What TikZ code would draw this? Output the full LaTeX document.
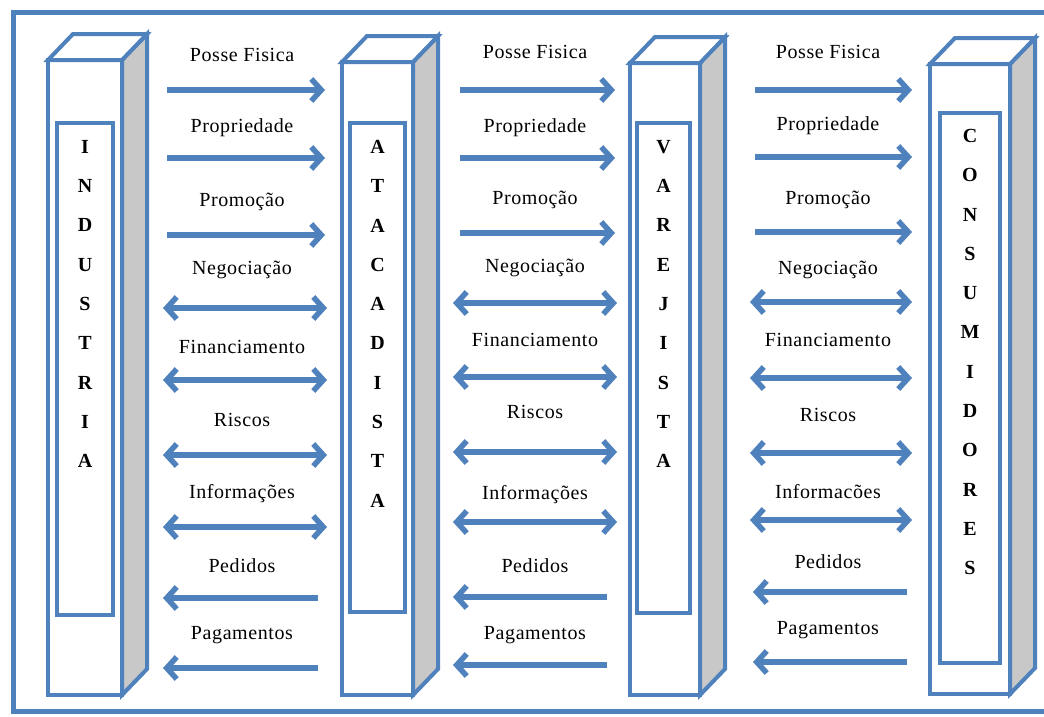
\documentclass[tikz,border=0pt]{standalone}
\usepackage{fontspec}
\setmainfont{Liberation Serif}
\newfontfamily\lblfont[LetterSpace=3]{Liberation Serif}
\usetikzlibrary{arrows.meta}
\definecolor{bl}{HTML}{4F81BD}
\definecolor{sidegray}{HTML}{C8C8C8}
\begin{document}
\begin{tikzpicture}[x=1pt,y=-1pt,
  frame/.style={draw=bl,line width=5pt},
  front/.style={draw=bl,fill=white,line width=4pt,outer sep=0pt,inner sep=0pt,line join=miter},
  sidef/.style={draw=bl,fill=sidegray,line width=4pt,line join=miter},
  topf/.style={draw=bl,fill=white,line width=4pt,line join=miter},
  inbox/.style={draw=bl,fill=white,line width=4pt,outer sep=0pt,inner sep=0pt},
  letters/.style={font=\bfseries\fontsize{20}{39.3}\selectfont,align=center,inner sep=0pt,anchor=north},
  lbl/.style={font=\lblfont\fontsize{20}{22}\selectfont,inner sep=0pt},
  tipb/.tip={Straight Barb[length=10pt,width=22pt]},
  fwd/.style={draw=bl,line width=5.5pt,-tipb},
  dbl/.style={draw=bl,line width=5.5pt,tipb-tipb},
  bwd/.style={draw=bl,line width=5.5pt,-tipb}]
\useasboundingbox (0,0) rectangle (1044,716);
\clip (0,0) rectangle (1044,716);
\fill[white] (0,0) rectangle (1044,716);
\draw[frame] (1060,12) -- (13,12) -- (13,711) -- (1060,711);

% prisms
\foreach \p/\xa/\ya/\xb/\yb/\ia/\ib/\ic/\id/\ty/\word in {
 1/48/60/122/695/57/123/113/615/140/{I\\N\\D\\U\\S\\T\\R\\I\\A},
 2/342/62/413/695/350/123/405/612/140/{A\\T\\A\\C\\A\\D\\I\\S\\T\\A},
 3/630/63/700/695/637/123/690/613/140/{V\\A\\R\\E\\J\\I\\S\\T\\A},
 4/930/64/1010/694/940/113/1000/663/129/{C\\O\\N\\S\\U\\M\\I\\D\\O\\R\\E\\S}}
{
 \node[front,minimum width={(\xb-\xa)*1pt},minimum height={(\yb-\ya)*1pt}]
   (p\p) at ({(\xa+\xb)/2},{(\ya+\yb)/2}) {};
 \filldraw[sidef] (p\p.north east) -- ++(25,-26) -- ([shift={(25,-26)}]p\p.south east)
   -- (p\p.south east) -- cycle;
 \filldraw[topf] (p\p.north west) -- ++(25,-26) -- ([shift={(25,-26)}]p\p.north east)
   -- (p\p.north east) -- cycle;
 \node[inbox,minimum width={(\ic-\ia)*1pt},minimum height={(\id-\ib)*1pt}]
   (q\p) at ({(\ia+\ic)/2},{(\ib+\id)/2}) {};
 \node[letters] (w\p) at ({(\ia+\ic)/2},\ty) {\word};
}

% column 1
\foreach \i/\t/\ay/\ly in {1/Posse Fisica/90/55, 2/Propriedade/158/128, 3/Promoção/235/202}{
  \node[lbl] (l1-\i) at (242,\ly) {\t};
  \coordinate (s1-\i) at (167,\ay); \coordinate (e1-\i) at (325,\ay);
  \draw[fwd] (s1-\i) -- (e1-\i);}
\foreach \i/\t/\ay/\ly in {4/Negociação/308/270, 5/Financiamento/380/347, 6/Riscos/455/420, 7/Informações/527/494}{
  \node[lbl] (l1-\i) at (242,\ly) {\t};
  \coordinate (s1-\i) at (163,\ay); \coordinate (e1-\i) at (327,\ay);
  \draw[dbl] (s1-\i) -- (e1-\i);}
\foreach \i/\t/\ay/\ly in {8/Pedidos/598/566, 9/Pagamentos/668/635}{
  \node[lbl] (l1-\i) at (242,\ly) {\t};
  \coordinate (s1-\i) at (318,\ay); \coordinate (e1-\i) at (163,\ay);
  \draw[bwd] (s1-\i) -- (e1-\i);}

% column 2
\foreach \i/\t/\ay/\ly in {1/Posse Fisica/90/52, 2/Propriedade/158/128, 3/Promoção/233/200}{
  \node[lbl] (l2-\i) at (535,\ly) {\t};
  \coordinate (s2-\i) at (460,\ay); \coordinate (e2-\i) at (615,\ay);
  \draw[fwd] (s2-\i) -- (e2-\i);}
\foreach \i/\t/\ay/\ly in {4/Negociação/303/268, 5/Financiamento/377/340, 6/Riscos/452/412, 7/Informações/522/495}{
  \node[lbl] (l2-\i) at (535,\ly) {\t};
  \coordinate (s2-\i) at (453,\ay); \coordinate (e2-\i) at (617,\ay);
  \draw[dbl] (s2-\i) -- (e2-\i);}
\foreach \i/\t/\ay/\ly in {8/Pedidos/597/566, 9/Pagamentos/665/635}{
  \node[lbl] (l2-\i) at (535,\ly) {\t};
  \coordinate (s2-\i) at (607,\ay); \coordinate (e2-\i) at (453,\ay);
  \draw[bwd] (s2-\i) -- (e2-\i);}

% column 3
\foreach \i/\t/\ay/\ly in {1/Posse Fisica/90/52, 2/Propriedade/157/126, 3/Promoção/232/200}{
  \node[lbl] (l3-\i) at (828,\ly) {\t};
  \coordinate (s3-\i) at (755,\ay); \coordinate (e3-\i) at (912,\ay);
  \draw[fwd] (s3-\i) -- (e3-\i);}
\foreach \i/\t/\ay/\ly in {4/Negociação/302/270, 5/Financiamento/378/340, 6/Riscos/453/415, 7/Informacões/520/492}{
  \node[lbl] (l3-\i) at (828,\ly) {\t};
  \coordinate (s3-\i) at (750,\ay); \coordinate (e3-\i) at (912,\ay);
  \draw[dbl] (s3-\i) -- (e3-\i);}
\foreach \i/\t/\ay/\ly in {8/Pedidos/592/562, 9/Pagamentos/662/630}{
  \node[lbl] (l3-\i) at (828,\ly) {\t};
  \coordinate (s3-\i) at (907,\ay); \coordinate (e3-\i) at (753,\ay);
  \draw[bwd] (s3-\i) -- (e3-\i);}
\end{tikzpicture}
\end{document}
